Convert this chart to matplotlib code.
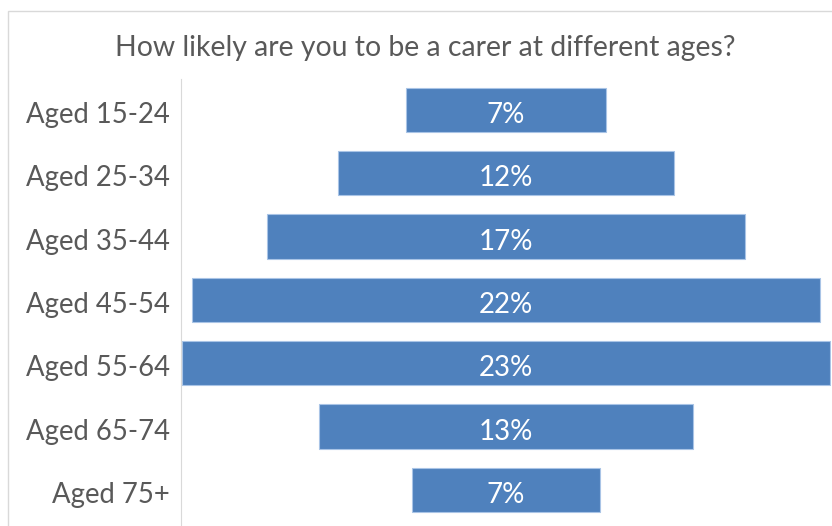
import matplotlib
matplotlib.use("Agg")
from matplotlib import pyplot as plt
from matplotlib.patches import Rectangle

ages = ["Aged 15-24", "Aged 25-34", "Aged 35-44", "Aged 45-54",
        "Aged 55-64", "Aged 65-74", "Aged 75+"]
share = [7.1, 11.9, 17.0, 22.3, 23.0, 13.3, 6.7]

plt.rcParams['font.family'] = ['Lato', 'DejaVu Sans']
W, H = 832, 526
fig = plt.figure(figsize=(W / 100, H / 100), dpi=100)

# light frame round the whole chart area
fig.patches.append(Rectangle((8 / W, -0.05), 1.1, 1 - 11 / H + 0.05,
                             transform=fig.transFigure, fill=False,
                             edgecolor="#d9d9d9", linewidth=1))

ax = fig.add_axes([181 / W, 0, (831 - 181) / W, (H - 79) / H])
half = 23.07 / 2
ys = range(len(ages))
lefts = [-v / 2 for v in share]
ax.barh(ys, share, left=lefts, height=0.70, color="#4f81bd",
        edgecolor="#a9c4e6", linewidth=0.8)
for y, v in zip(ys, share):
    ax.text(0, y + 0.04, f"{v:.0f}%", ha="center", va="center_baseline",
            color="white", fontsize=20)

ax.set_xlim(-half, half)
ax.set_ylim(6.57, -0.49)
ax.set_yticks([y + 0.04 for y in ys])
ax.set_yticklabels(ages, fontsize=19.8, color="#595959")
ax.tick_params(axis="y", length=0, pad=8)
ax.set_xticks([])
for side in ["top", "right", "bottom"]:
    ax.spines[side].set_visible(False)
ax.spines["left"].set_color("#d9d9d9")

fig.text(425 / W, 1 - 48 / H, "How likely are you to be a carer at different ages?",
         ha="center", va="center", fontsize=20.4, color="#595959")

fig.savefig("out.png", dpi=100)
